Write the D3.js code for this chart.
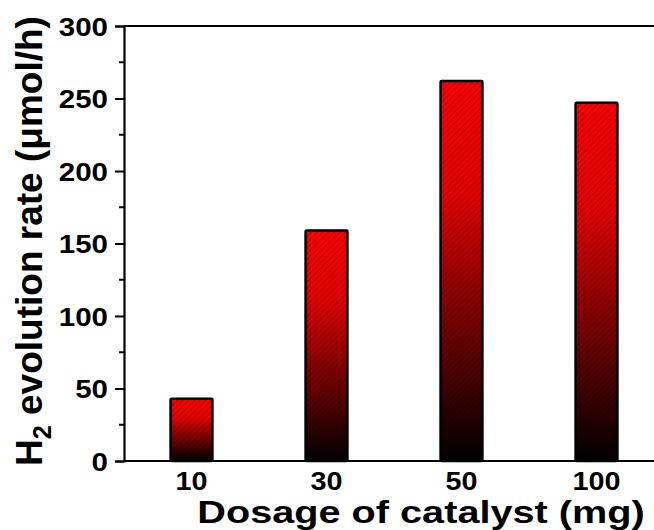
<!DOCTYPE html>
<html>
<head>
<meta charset="utf-8">
<script src="https://cdn.jsdelivr.net/npm/d3@7"></script>
<style>
  body { margin: 0; background: #fff; }
  text { font-family: "Liberation Sans", Arial, sans-serif; font-weight: bold; fill: #000; }
</style>
</head>
<body>
<svg id="chart" width="654" height="530"></svg>
<script>
// Data
var categories = ["10", "30", "50", "100"];
var rates = [43, 159, 262, 247];
var majorTicks = [0, 50, 100, 150, 200, 250, 300];
var minorTicks = [25, 75, 125, 175, 225, 275];

var svg = d3.select("#chart");
var plotLeft = 124, plotTop = 26, plotBottom = 461, plotRight = 664;

var x = d3.scaleBand()
  .domain(categories)
  .range([plotLeft, plotRight])
  .paddingInner(0.69)
  .paddingOuter(0.345);

var y = d3.scaleLinear().domain([0, 300]).range([plotBottom, plotTop]);

// gradient + hatching for bars
var defs = svg.append("defs");
var grad = defs.append("linearGradient")
  .attr("id", "barGrad")
  .attr("x1", 0).attr("y1", 0).attr("x2", 0).attr("y2", 1);
grad.append("stop").attr("offset", "0%").attr("stop-color", "#ff0000");
grad.append("stop").attr("offset", "30%").attr("stop-color", "#e80000");
grad.append("stop").attr("offset", "100%").attr("stop-color", "#000000");

var hatch = defs.append("pattern")
  .attr("id", "hatch")
  .attr("patternUnits", "userSpaceOnUse")
  .attr("width", 4).attr("height", 4)
  .attr("patternTransform", "rotate(45)");
hatch.append("line")
  .attr("x1", 0).attr("y1", 0).attr("x2", 0).attr("y2", 4)
  .attr("stroke", "rgba(0,0,0,0.45)")
  .attr("stroke-width", 1.3);

// bars
var bars = svg.append("g");
bars.selectAll("rect.fill")
  .data(rates)
  .join("rect")
  .attr("class", "fill")
  .attr("x", (d, i) => x(categories[i]))
  .attr("y", (d) => y(d))
  .attr("width", x.bandwidth())
  .attr("height", (d) => y(0) - y(d))
  .attr("fill", "url(#barGrad)");

bars.selectAll("rect.hatch")
  .data(rates)
  .join("rect")
  .attr("class", "hatch")
  .attr("x", (d, i) => x(categories[i]))
  .attr("y", (d) => y(d))
  .attr("width", x.bandwidth())
  .attr("height", (d) => y(0) - y(d))
  .attr("fill", "url(#hatch)")
  .attr("stroke", "#000")
  .attr("stroke-width", 2.5)
  .attr("rx", 1);

// frame lines (right side runs off the picture)
svg.append("line")
  .attr("x1", plotLeft).attr("x2", 654).attr("y1", plotTop).attr("y2", plotTop)
  .attr("stroke", "#000").attr("stroke-width", 2);
svg.append("line")
  .attr("x1", plotLeft).attr("x2", 654).attr("y1", plotBottom).attr("y2", plotBottom)
  .attr("stroke", "#000").attr("stroke-width", 2.2);

// y axis
var yAxis = svg.append("g")
  .attr("transform", `translate(${plotLeft},0)`)
  .call(d3.axisLeft(y).tickValues(majorTicks).tickSize(9).tickFormat(d3.format("d")));
yAxis.select(".domain").attr("stroke-width", 2.2);
yAxis.selectAll(".tick line").attr("stroke-width", 2);
yAxis.selectAll(".tick text")
  .attr("x", 0)
  .attr("dy", "0.36em")
  .attr("font-size", 25)
  .attr("transform", "translate(-16,0) scale(1.18,1)")
  .style("font-family", "'Liberation Sans', Arial, sans-serif")
  .style("font-weight", "bold");

svg.append("g")
  .attr("transform", `translate(${plotLeft},0)`)
  .selectAll("line")
  .data(minorTicks)
  .join("line")
  .attr("x1", -5).attr("x2", 0)
  .attr("y1", (d) => y(d)).attr("y2", (d) => y(d))
  .attr("stroke", "#000").attr("stroke-width", 2);

// x tick labels
svg.append("g")
  .selectAll("text")
  .data(categories)
  .join("text")
  .attr("text-anchor", "middle")
  .attr("font-size", 25)
  .attr("transform", (d) => `translate(${x(d) + x.bandwidth() / 2},490) scale(1.15,1)`)
  .text((d) => d);

// axis titles
svg.append("text")
  .attr("text-anchor", "middle")
  .attr("font-size", 31)
  .attr("transform", "translate(421,523) scale(1.28,1)")
  .text("Dosage of catalyst (mg)");

var yTitle = svg.append("text")
  .attr("text-anchor", "middle")
  .attr("font-size", 37)
  .attr("transform", "translate(42,241) rotate(-90)");
yTitle.append("tspan").text("H");
yTitle.append("tspan").attr("font-size", 25).attr("dy", 9).text("2");
yTitle.append("tspan").attr("dy", -9).text(" evolution rate (μmol/h)");
</script>
</body>
</html>
